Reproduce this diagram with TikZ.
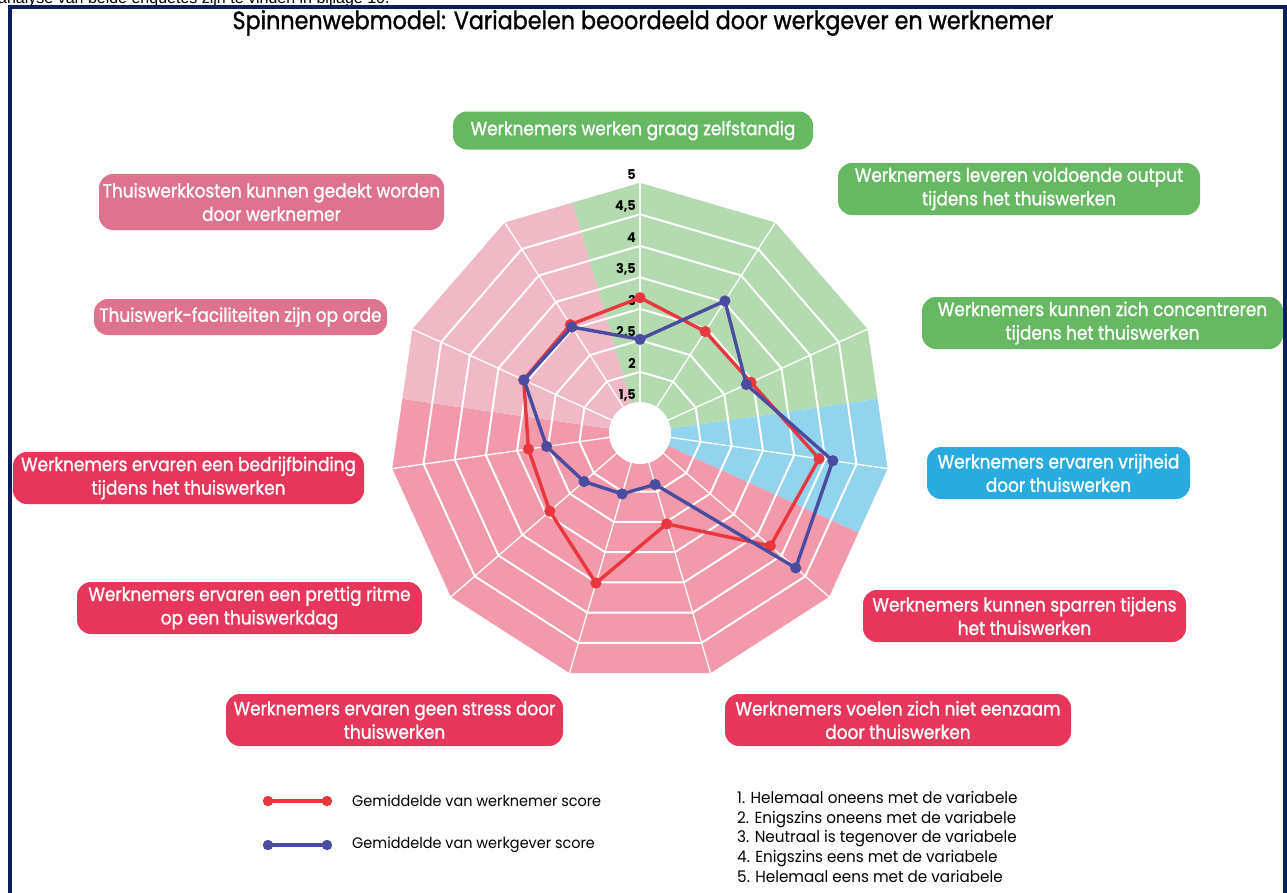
\documentclass[tikz,border=0pt]{standalone}
\usepackage{fontspec}
\setmainfont{Liberation Sans}
\newfontfamily\futura[FakeStretch=0.89, FakeBold=1.2]{Poppins}
\newfontfamily\futbook[FakeStretch=0.95]{Poppins}
\definecolor{frameblue}{HTML}{0B1F5E}
\definecolor{wgreen}{HTML}{B3DBAF}
\definecolor{wblue}{HTML}{92D3EE}
\definecolor{wpink}{HTML}{F29AAB}
\definecolor{wlpink}{HTML}{EFB9C6}
\definecolor{bgreen}{HTML}{66B862}
\definecolor{bblue}{HTML}{29ABE0}
\definecolor{bred}{HTML}{E6365B}
\definecolor{bmauve}{HTML}{DF728F}
\definecolor{lred}{HTML}{E8383D}
\definecolor{lblue}{HTML}{4A4D9F}
\begin{document}
\begin{tikzpicture}[x=1pt,y=-1pt,
  lbox/.style={rounded corners=14pt, text=white, align=center, inner sep=0pt, font=\futura\fontsize{19}{23.5}\selectfont},
  ring/.style={draw=white, line width=2pt, line join=miter},
  spoke/.style={draw=white, line width=1.3pt},
  redl/.style={draw=lred, line width=3.4pt, line join=round},
  bluel/.style={draw=lblue, line width=3.4pt, line join=round},
  scl/.style={font=\futbook\bfseries\fontsize{13.5}{14}\selectfont, anchor=east, inner sep=0pt},
  legt/.style={font=\futbook\fontsize{15.2}{19}\selectfont, anchor=west, inner sep=0pt}
]
\useasboundingbox (0,0) rectangle (1287,892);
\fill[white] (0,0) rectangle (1287,892);
\node[font=\fontsize{16}{18}\selectfont, anchor=base west, inner sep=0pt] (cut) at (-2,3) {analyse van beide enquêtes zijn te vinden in bijlage 10.};
\draw[frameblue, line width=4pt] (10,900) -- (10,7) -- (1285,7) -- (1285,900);
\node[font=\futura\fontsize{25}{29}\selectfont, inner sep=0pt] (title) at (643,23) {Spinnenwebmodel: Variabelen beoordeeld door werkgever en werknemer};

\begin{scope}[shift={(640,433)}]
 \def\A{32.7272727}
 \begin{scope}
  \clip (-90:250.2) \foreach \i in {1,...,10}{ -- ({-90+\i*\A}:250.2)} -- cycle;
  \fill[wgreen] (0,0) \foreach \k in {-0.5,0.5,1.5,2.5}{ -- ({-90+\k*\A}:400)} -- cycle;
  \fill[wblue] (0,0) -- ({-90+2.5*\A}:400) -- ({-90+3.5*\A}:400) -- cycle;
  \fill[wpink] (0,0) \foreach \k in {3.5,4.5,5.5,6.5,7.5,8.5}{ -- ({-90+\k*\A}:400)} -- cycle;
  \fill[wlpink] (0,0) \foreach \k in {8.5,9.5,10.5}{ -- ({-90+\k*\A}:400)} -- cycle;
 \end{scope}
 \foreach \r in {61.2,92.7,124.2,155.7,187.2,218.7}{
   \draw[ring] (-90:\r) \foreach \i in {1,...,10}{ -- ({-90+\i*\A}:\r)} -- cycle;
 }
 \foreach \i in {0,...,10}{ \draw[spoke] ({-90+\i*\A}:29.7) -- ({-90+\i*\A}:250.2); }
 \fill[white] (0,0) circle (31);
 \node[scl] (s15) at (-4,-37.7) {1,5};
 \node[scl] (s20) at (-4,-69.2) {2};
 \node[scl] (s25) at (-4,-100.7) {2,5};
 \node[scl] (s30) at (-4,-132.2) {3};
 \node[scl] (s35) at (-4,-163.7) {3,5};
 \node[scl] (s40) at (-4,-195.2) {4};
 \node[scl] (s45) at (-4,-226.7) {4,5};
 \node[scl] (s50) at (-4,-258.2) {5};
 \foreach \r [count=\i from 0] in {135.3,120.6,122,180.9,172.5,94.7,156.4,119.4,112.7,127.9,128.8}{
   \coordinate (r\i) at ({-90+\i*\A}:\r);
 }
 \foreach \r [count=\i from 0] in {93.7,157,116.9,194.8,206,53.6,63.5,74.1,94.4,127.5,126}{
   \coordinate (b\i) at ({-90+\i*\A}:\r);
 }
 \draw[redl] (r0) -- (r1) -- (r2) -- (r3) -- (r4) -- (r5) -- (r6) -- (r7) -- (r8) -- (r9) -- (r10) -- cycle;
 \foreach \i in {0,...,10}{ \fill[lred] (r\i) circle (5.6); }
 \draw[bluel] (b0) -- (b1) -- (b2) -- (b3) -- (b4) -- (b5) -- (b6) -- (b7) -- (b8) -- (b9) -- (b10) -- cycle;
 \foreach \i in {0,...,10}{ \fill[lblue] (b\i) circle (5.6); }
\end{scope}

\node[lbox, fill=bgreen, minimum width=360pt, minimum height=38pt] (L1) at (633,130.5) {Werknemers werken graag zelfstandig};
\node[lbox, fill=bgreen, minimum width=362pt, minimum height=52pt] (L2) at (1019,189) {Werknemers leveren voldoende output\\tijdens het thuiswerken};
\node[lbox, fill=bgreen, minimum width=361pt, minimum height=52pt] (L3) at (1102.5,323) {Werknemers kunnen zich concentreren\\tijdens het thuiswerken};
\node[lbox, fill=bblue, minimum width=263pt, minimum height=52pt] (L4) at (1058.5,473) {Werknemers ervaren vrijheid\\door thuiswerken};
\node[lbox, fill=bred, minimum width=323pt, minimum height=52pt] (L5) at (1024.5,616) {Werknemers kunnen sparren tijdens\\het thuiswerken};
\node[lbox, fill=bred, minimum width=346pt, minimum height=52pt] (L6) at (898,720) {Werknemers voelen zich niet eenzaam\\door thuiswerken};
\node[lbox, fill=bred, minimum width=337pt, minimum height=52pt] (L7) at (394.5,720) {Werknemers ervaren geen stress door\\thuiswerken};
\node[lbox, fill=bred, minimum width=345pt, minimum height=52pt] (L8) at (249.5,608) {Werknemers ervaren een prettig ritme\\op een thuiswerkdag};
\node[lbox, fill=bred, minimum width=351pt, minimum height=52pt] (L9) at (188.5,478) {Werknemers ervaren een bedrijfbinding\\tijdens het thuiswerken};
\node[lbox, fill=bmauve, minimum width=293pt, minimum height=36pt] (L10) at (240.5,317) {Thuiswerk-faciliteiten zijn op orde};
\node[lbox, fill=bmauve, minimum width=345pt, minimum height=56pt] (L11) at (271.5,202) {Thuiswerkkosten kunnen gedekt worden\\door werknemer};

\coordinate (ra) at (268,801);
\coordinate (rb) at (327,801);
\draw[redl] (ra) -- (rb);
\fill[lred] (ra) circle (5.2) (rb) circle (5.2);
\node[legt] (lt1) at (352,801) {Gemiddelde van werknemer score};
\coordinate (ba) at (268,845);
\coordinate (bb) at (327,845);
\draw[bluel] (ba) -- (bb);
\fill[lblue] (ba) circle (5.2) (bb) circle (5.2);
\node[legt] (lt2) at (352,845) {Gemiddelde van werkgever score};
\node[font=\futbook\fontsize{16}{19.8}\selectfont, anchor=north west, align=left, inner sep=0pt] (scale) at (737,791) {1. Helemaal oneens met de variabele\\2. Enigszins oneens met de variabele\\3. Neutraal is tegenover de variabele\\4. Enigszins eens met de variabele\\5. Helemaal eens met de variabele};
\end{tikzpicture}
\end{document}
